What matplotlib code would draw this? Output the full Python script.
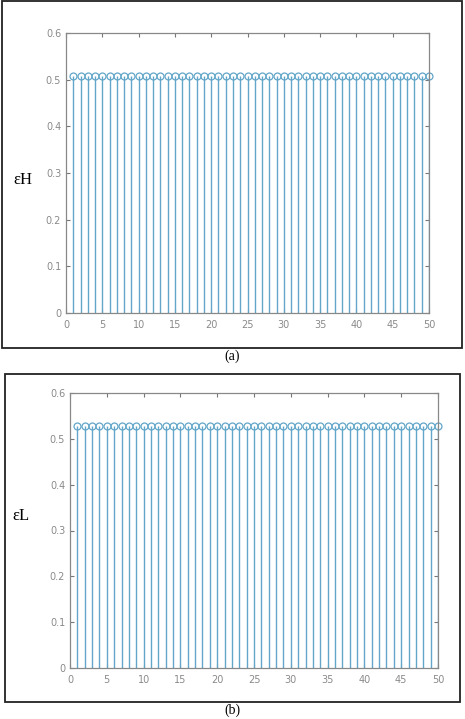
import matplotlib.pyplot as plt
from matplotlib.patches import Rectangle

# sample index and the two stem series
n = list(range(1, 51))
eps_h = [0.507, 0.507, 0.507, 0.507, 0.507, 0.507, 0.507, 0.507, 0.507, 0.507,
         0.507, 0.507, 0.507, 0.507, 0.507, 0.507, 0.507, 0.507, 0.507, 0.507,
         0.507, 0.507, 0.507, 0.507, 0.507, 0.507, 0.507, 0.507, 0.507, 0.507,
         0.507, 0.507, 0.507, 0.507, 0.507, 0.507, 0.507, 0.507, 0.507, 0.507,
         0.507, 0.507, 0.507, 0.507, 0.507, 0.507, 0.507, 0.507, 0.507, 0.507]
eps_l = [0.529, 0.529, 0.529, 0.529, 0.529, 0.529, 0.529, 0.529, 0.529, 0.529,
         0.529, 0.529, 0.529, 0.529, 0.529, 0.529, 0.529, 0.529, 0.529, 0.529,
         0.529, 0.529, 0.529, 0.529, 0.529, 0.529, 0.529, 0.529, 0.529, 0.529,
         0.529, 0.529, 0.529, 0.529, 0.529, 0.529, 0.529, 0.529, 0.529, 0.529,
         0.529, 0.529, 0.529, 0.529, 0.529, 0.529, 0.529, 0.529, 0.529, 0.529]
xticks = [0, 5, 10, 15, 20, 25, 30, 35, 40, 45, 50]
yticks = [0, 0.1, 0.2, 0.3, 0.4, 0.5, 0.6]
ytick_labels = ['0', '0.1', '0.2', '0.3', '0.4', '0.5', '0.6']

W, H = 465, 719
fig = plt.figure(figsize=(W / 100, H / 100), dpi=100)
stem_col = '#62a6c9'


def px(left, top, right, bottom):
    # pixel box -> figure fraction rect
    return [left / W, 1 - bottom / H, (right - left) / W, (bottom - top) / H]


def panel(box, axbox, y, label, label_xy, caption, cap_y):
    fig.patches.append(Rectangle((box[0] / W, 1 - box[3] / H),
                                 (box[2] - box[0]) / W, (box[3] - box[1]) / H,
                                 transform=fig.transFigure, fill=False,
                                 edgecolor='#222222', linewidth=1.3))
    ax = fig.add_axes(px(*axbox))
    ml, sl, bl = ax.stem(n, y, basefmt=' ')
    plt.setp(sl, color=stem_col, linewidth=1.0)
    plt.setp(ml, markerfacecolor='none', markeredgecolor=stem_col,
             markersize=5, markeredgewidth=0.9, clip_on=False)
    ax.set_xlim(0, 50)
    ax.set_ylim(0, 0.6)
    ax.set_xticks(xticks)
    ax.set_yticks(yticks)
    ax.set_yticklabels(ytick_labels)
    ax.tick_params(direction='in', length=3, top=True, right=True,
                   labelsize=7, colors='#777777', labelcolor='#8a8a8a')
    ax.tick_params(axis='x', pad=5)
    for s in ax.spines.values():
        s.set_color('#888888')
        s.set_linewidth(0.9)
    fig.text(label_xy[0] / W, 1 - label_xy[1] / H, label,
             family='Liberation Serif', fontsize=12, ha='center', va='center')
    fig.text(232 / W, 1 - cap_y / H, caption, family='Liberation Serif',
             fontsize=10, ha='center', va='center')
    return ax


panel((2, 1, 462, 348), (66, 33, 429, 313), eps_h, 'εH', (23, 180), '(a)', 356)
panel((5, 374, 460, 702), (70, 393, 438, 668), eps_l, 'εL', (21, 516), '(b)', 710)

fig.savefig('out.png', dpi=100)
